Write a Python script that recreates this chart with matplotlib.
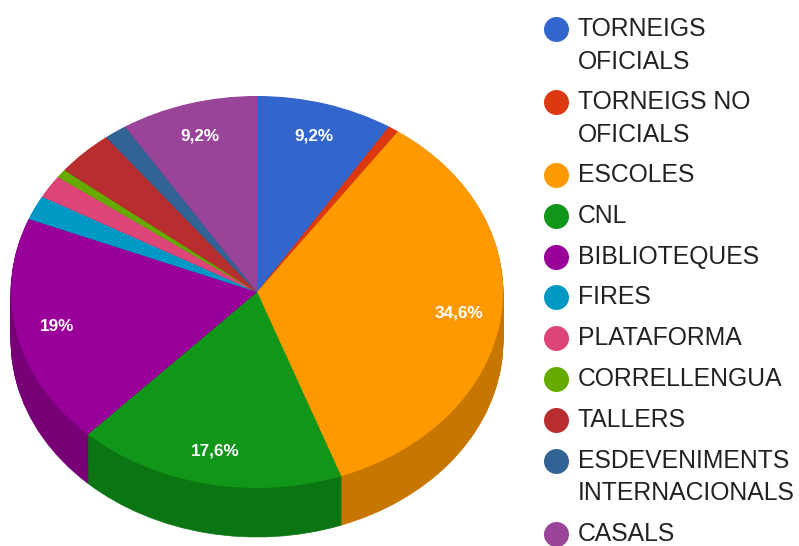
import matplotlib
matplotlib.use('Agg')
import matplotlib.pyplot as plt
import matplotlib.colors as mcolors
import numpy as np

categories = ['TORNEIGS\nOFICIALS', 'TORNEIGS NO\nOFICIALS', 'ESCOLES', 'CNL', 'BIBLIOTEQUES',
              'FIRES', 'PLATAFORMA', 'CORRELLENGUA', 'TALLERS',
              'ESDEVENIMENTS\nINTERNACIONALS', 'CASALS']
values = [9.0, 0.7, 34.7, 17.6, 19.0, 2.0, 1.9, 0.7, 3.8, 1.5, 9.0]
slice_labels = ['9,2%', '', '34,6%', '17,6%', '19%', '', '', '', '', '', '9,2%']
colors = ['#3366CC', '#DC3912', '#FF9900', '#109618', '#990099', '#0099C6',
          '#DD4477', '#66AA00', '#B82E2E', '#316395', '#994499']

W, H = 799, 546
plt.rcParams['font.family'] = ['Liberation Sans', 'DejaVu Sans']

fig = plt.figure(figsize=(W / 100, H / 100), dpi=100)
# pie spans x 11..503, top face y 96..488, side goes down to 537
ax = fig.add_axes([11 / W, 1 - 537 / H, 492 / W, 441 / H])

depth = 0.25
side_colors = [tuple(c * 0.78 for c in mcolors.to_rgb(col)) for col in colors]

# side of the pie: stack of darker pies going up
for d in np.linspace(depth, 0.005, 50):
    side, _ = ax.pie(values, colors=side_colors, startangle=90, counterclock=False,
                     center=(0, -d), wedgeprops={'linewidth': 0.5})
    for w in side:
        w.set_edgecolor(w.get_facecolor())

wedges, texts = ax.pie(values, colors=colors, startangle=90, counterclock=False,
                       labels=slice_labels, labeldistance=0.83,
                       wedgeprops={'linewidth': 0},
                       textprops={'color': 'white', 'fontsize': 12.3, 'fontweight': 'bold'})
for t in texts:
    t.set_ha('center')
    t.set_va('center')

ax.set_aspect('auto')
ax.set_xlim(-1, 1)
ax.set_ylim(-1 - depth, 1)

# legend by hand, the dot sits on the first line of its label
leg = fig.add_axes([0, 0, 1, 1])
leg.set_xlim(0, W)
leg.set_ylim(H, 0)
leg.axis('off')
y = 29
for name, col in zip(categories, colors):
    leg.scatter(556, y, s=324, color=col, linewidths=0)
    leg.text(578, y - 12, name, fontsize=17.8, color='#222222', va='top', ha='left', linespacing=1.45)
    y += 40.8 if '\n' not in name else 73

fig.savefig('out.png', dpi=100)
